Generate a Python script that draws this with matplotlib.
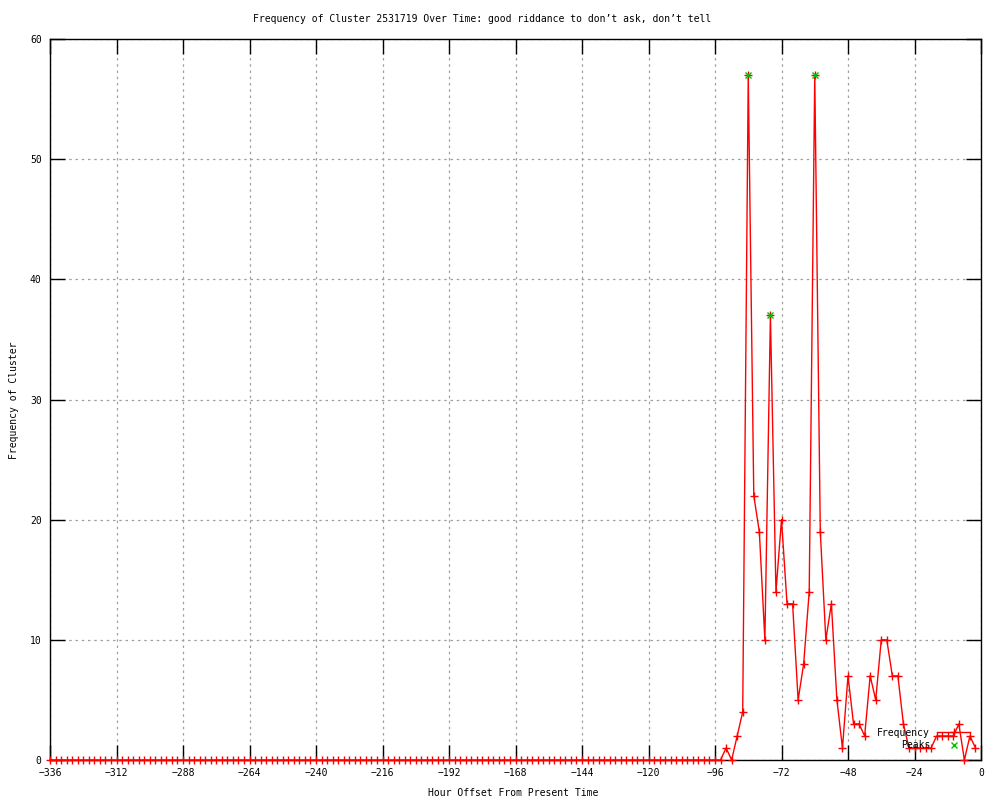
import matplotlib
matplotlib.use("Agg")
import matplotlib.pyplot as plt
from matplotlib.lines import Line2D

# Data
hours = list(range(-336, 0, 2))
active_values = [1, 0, 2, 4, 57, 22, 19, 10, 37, 14, 20, 13, 13, 5, 8, 14, 57, 19,
                 10, 13, 5, 1, 7, 3, 3, 2, 7, 5, 10, 10, 7, 7, 3, 1, 1, 1, 1, 1,
                 2, 2, 2, 2, 3, 0, 2, 1]
freq = [0] * (len(hours) - len(active_values)) + active_values
peak_hours = [-84, -76, -60]
peak_values = [57, 37, 57]

title = "Frequency of Cluster 2531719 Over Time: good riddance to don\u2019t ask, don\u2019t tell"
xlabel = "Hour Offset From Present Time"
ylabel = "Frequency of Cluster"
xticks = list(range(-336, 1, 24))
yticks = list(range(0, 61, 10))

plt.rcParams['font.family'] = ['DejaVu Sans Mono']
FS = 7

fig = plt.figure(figsize=(10, 8), dpi=100)
ax = fig.add_axes([0.05, 0.05, 0.931, 0.90125])

ax.plot(hours, freq, color='#ff0000', lw=1, marker='+', markersize=5.5,
        markeredgewidth=1, zorder=3, clip_on=False)
ax.plot(peak_hours, peak_values, linestyle='none', color='#00c000', marker='x',
        markersize=5, markeredgewidth=1, zorder=4, clip_on=False)

ax.set_xlim(-336, 0)
ax.set_ylim(0, 60)
ax.set_xticks(xticks)
ax.set_yticks(yticks)
ax.set_xticklabels([str(t).replace('-', '\u2212') if t != 0 else '0' for t in xticks], fontsize=FS)
ax.set_yticklabels([str(t) for t in yticks], fontsize=FS)
ax.tick_params(direction='in', length=11, width=1, top=True, right=True,
               labeltop=False, labelright=False, pad=6, colors='black')
ax.grid(True, color='#a0a0a0', linestyle=(0, (2, 3)), lw=0.9)
for s in ax.spines.values():
    s.set_linewidth(1)
    s.set_color('black')

fig.text(0.482, 0.976, title, ha='center', va='center', fontsize=FS)
fig.text(0.513, 0.009, xlabel, ha='center', va='center', fontsize=FS)
fig.text(0.014, 0.5, ylabel, ha='center', va='center', rotation=90, fontsize=FS)

# Legend (gnuplot-style key)
fig.text(0.930, 1 - 733 / 800, "Frequency", ha='right', va='center', fontsize=FS)
fig.text(0.930, 1 - 745 / 800, "Peaks", ha='right', va='center', fontsize=FS)
fig.add_artist(Line2D([0.937, 0.970], [1 - 732 / 800, 1 - 732 / 800], color='#ff0000', lw=1,
                      transform=fig.transFigure))
fig.add_artist(Line2D([0.9535], [1 - 732 / 800], color='#ff0000', marker='+', markersize=5.5,
                      transform=fig.transFigure, linestyle='none'))
fig.add_artist(Line2D([0.954], [1 - 745 / 800], color='#00c000', marker='x', markersize=5,
                      transform=fig.transFigure, linestyle='none'))

fig.savefig("out.png", dpi=100)
